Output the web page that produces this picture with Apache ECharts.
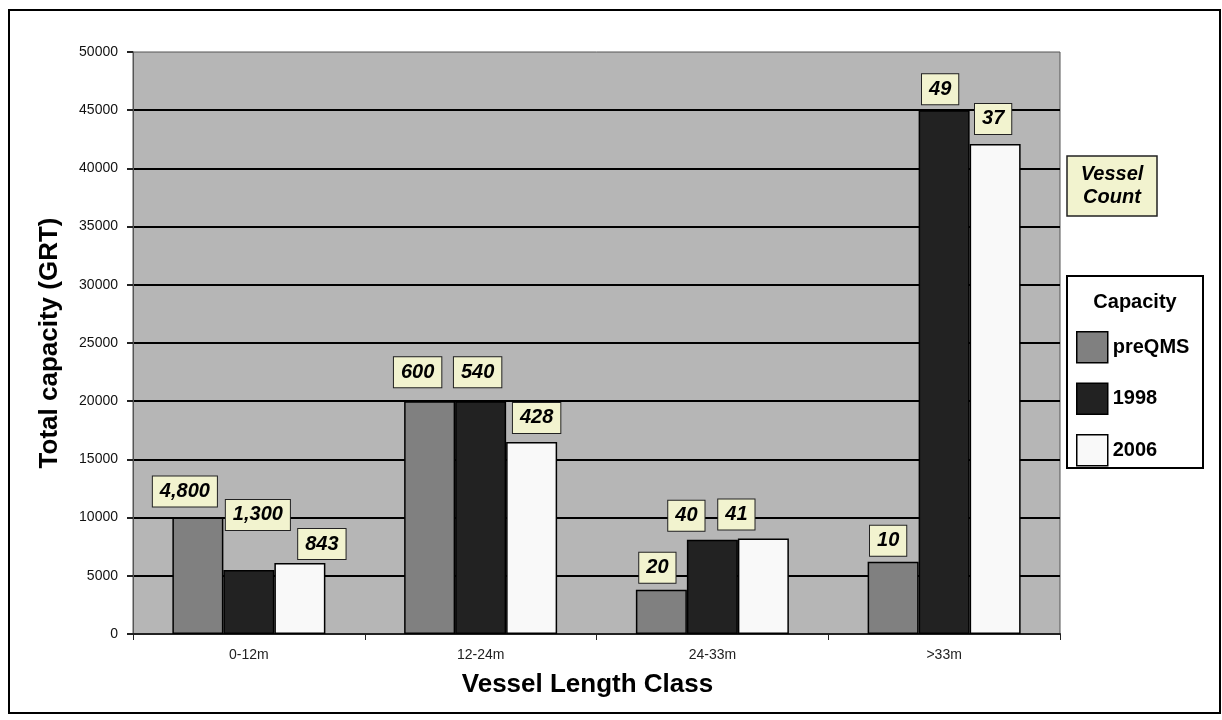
<!DOCTYPE html>
<html>
<head>
<meta charset="utf-8">
<script src="https://cdn.jsdelivr.net/npm/echarts@6/dist/echarts.min.js"></script>
<style>
    html, body { margin: 0; padding: 0; background: #fff; }
    #chart { width: 1222px; height: 720px; }
</style>
</head>
<body>
<div id="chart"></div>
<script>
// categories and values
let categories = ['0-12m', '12-24m', '24-33m', '>33m']
let capPreQMS = [10000, 20000, 3800, 6200]
let cap1998 = [5500, 20000, 8100, 45000]
let cap2006 = [6100, 16500, 8200, 42100]
// vessel counts shown in the yellow boxes
let countPreQMS = ['4,800', '600', '20', '10']
let count1998 = ['1,300', '540', '40', '49']
let count2006 = ['843', '428', '41', '37']

// hand placed label nudges [dx, gap above bar]
let nudgePre = [[-13, 11], [-12, 14], [-4, 7], [-5, 6]]
let nudge1998 = [[9, 40], [-3, 14], [-26, 9], [-4, 6]]
let nudge2006 = [[22, 4], [5, 9], [-27, 9], [-2, 10]]

let FONT = '"Liberation Sans", Arial, sans-serif'

let boxLabel = {
    show: true,
    position: 'top',
    color: '#000',
    fontFamily: FONT,
    fontSize: 20,
    fontWeight: 'bold',
    fontStyle: 'italic',
    lineHeight: 22,
    backgroundColor: '#f2f3cf',
    borderColor: '#222',
    borderWidth: 1,
    padding: [4, 7, 4, 7]
}

let buildData = (vals, counts, nudges) => {
    return vals.map((v, i) => ({
        value: v,
        label: Object.assign({}, boxLabel, {
            formatter: counts[i],
            distance: nudges[i][1],
            offset: [nudges[i][0], 0]
        })
    }))
}

let makeSerie = (name, color, vals, counts, nudges) => ({
    name: name,
    type: 'bar',
    barWidth: 51,
    barGap: '0%',
    itemStyle: { color: color, borderColor: '#000', borderWidth: 1.5 },
    data: buildData(vals, counts, nudges)
})

let options = {
    animation: false,
    backgroundColor: '#fff',
    textStyle: { fontFamily: FONT },
    grid: {
        left: 133, top: 52, right: 162, bottom: 86,
        show: true,
        backgroundColor: '#b6b6b6',
        borderColor: '#555',
        borderWidth: 1
    },
    legend: {
        orient: 'vertical',
        left: 1076,
        top: 331,
        padding: 0,
        itemWidth: 31,
        itemHeight: 31,
        itemGap: 19,
        icon: 'rect',
        itemStyle: { borderColor: '#000', borderWidth: 1.5 },
        textStyle: { color: '#000', fontSize: 20, fontWeight: 'bold', fontFamily: FONT },
        selectedMode: false,
        data: ['preQMS', '1998', '2006']
    },
    xAxis: {
        type: 'category',
        data: categories,
        name: 'Vessel Length Class',
        nameLocation: 'middle',
        nameGap: 38,
        nameTextStyle: { color: '#000', fontSize: 26, fontWeight: 'bold', fontFamily: FONT, padding: [0, 18, 0, 0] },
        axisLine: { lineStyle: { color: '#222', width: 2 } },
        axisTick: { show: true, length: 6, lineStyle: { color: '#222' } },
        axisLabel: { color: '#222', fontSize: 14, margin: 14, fontFamily: FONT }
    },
    yAxis: {
        type: 'value',
        min: 0,
        max: 50000,
        interval: 5000,
        name: 'Total capacity (GRT)',
        nameLocation: 'middle',
        nameGap: 70,
        nameTextStyle: { color: '#000', fontSize: 26, fontWeight: 'bold', fontFamily: FONT },
        axisLine: { show: true, lineStyle: { color: '#555', width: 1 } },
        axisTick: { show: true, length: 6, lineStyle: { color: '#222', width: 2 } },
        axisLabel: {
            color: '#111',
            fontSize: 14,
            margin: 15,
            fontFamily: FONT,
            formatter: (v) => String(v)
        },
        splitLine: {
            show: true,
            showMinLine: false,
            showMaxLine: false,
            lineStyle: { color: '#000', width: 2 }
        }
    },
    graphic: [
        {
            type: 'rect',
            shape: { x: 9, y: 10, width: 1211, height: 703 },
            style: { fill: 'none', stroke: '#000', lineWidth: 2 },
            silent: true
        },
        {
            type: 'rect',
            shape: { x: 1067, y: 156, width: 90, height: 60 },
            style: { fill: '#f2f3cf', stroke: '#222', lineWidth: 1.5 },
            silent: true
        },
        {
            type: 'text',
            x: 1112,
            y: 186,
            style: {
                text: 'Vessel\nCount',
                fill: '#000',
                font: 'italic bold 20px ' + FONT,
                lineHeight: 23,
                align: 'center',
                verticalAlign: 'middle'
            },
            silent: true
        },
        {
            type: 'rect',
            shape: { x: 1067, y: 276, width: 136, height: 192 },
            style: { fill: '#fff', stroke: '#000', lineWidth: 2 },
            z: -1,
            silent: true
        },
        {
            type: 'text',
            x: 1135,
            y: 302,
            style: {
                text: 'Capacity',
                fill: '#000',
                font: 'bold 20px ' + FONT,
                align: 'center',
                verticalAlign: 'middle'
            },
            silent: true
        }
    ],
    series: [
        makeSerie('preQMS', '#808080', capPreQMS, countPreQMS, nudgePre),
        makeSerie('1998', '#222222', cap1998, count1998, nudge1998),
        makeSerie('2006', '#f9f9f9', cap2006, count2006, nudge2006)
    ]
}

let mychart = echarts.init(document.getElementById('chart'))
mychart.setOption(options)
window.addEventListener('resize', () => {
    mychart?.resize()
})
</script>
</body>
</html>
